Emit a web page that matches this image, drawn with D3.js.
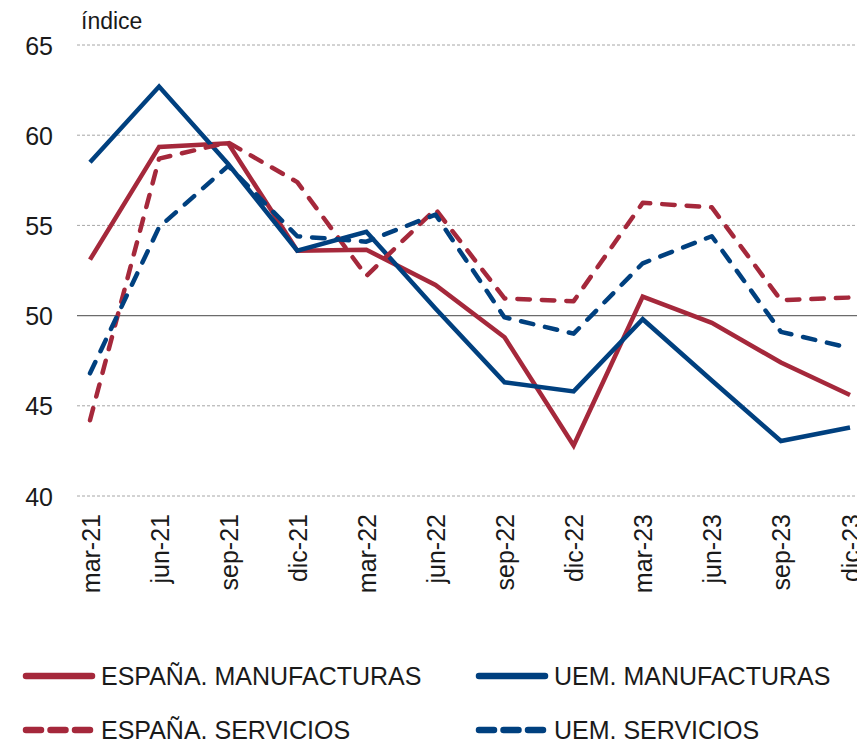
<!DOCTYPE html>
<html>
<head>
<meta charset="utf-8">
<script src="https://cdn.jsdelivr.net/npm/d3@7/dist/d3.min.js"></script>
<style>
  body { margin: 0; background: #fff; }
  svg text { font-family: "Liberation Sans", Arial, sans-serif; fill: #1a1a1a; }
</style>
</head>
<body>
<svg id="chart" width="857" height="744"></svg>
<script>
// datos trimestrales
const categories = ["mar-21", "jun-21", "sep-21", "dic-21", "mar-22", "jun-22",
  "sep-22", "dic-22", "mar-23", "jun-23", "sep-23", "dic-23"];
const espanaManuf = [53.1, 59.35, 59.55, 53.6, 53.65, 51.7, 48.8, 42.8, 51.05, 49.6, 47.4, 45.6];
const uemManuf = [58.5, 62.7, 58.4, 53.6, 54.65, 50.4, 46.3, 45.8, 49.8, 46.4, 43.05, 43.8];
const espanaServ = [44.2, 58.7, 59.6, 57.4, 52.2, 55.9, 50.95, 50.8, 56.25, 56.0, 50.85, 51.0];
const uemServ = [46.8, 54.9, 58.3, 54.4, 54.1, 55.6, 49.9, 49.0, 52.9, 54.4, 49.1, 48.2];
const yTicks = [40, 45, 50, 55, 60, 65];

const red = "#a5283b", blue = "#00407f";

const series = [
  { name: "ESPAÑA. MANUFACTURAS", values: espanaManuf, color: red, dashed: false },
  { name: "UEM. MANUFACTURAS", values: uemManuf, color: blue, dashed: false },
  { name: "ESPAÑA. SERVICIOS", values: espanaServ, color: red, dashed: true },
  { name: "UEM. SERVICIOS", values: uemServ, color: blue, dashed: true }
];

const svg = d3.select("#chart");

const x = d3.scalePoint().domain(categories).range([90, 850]);
const y = d3.scaleLinear().domain([40, 65]).range([496, 45]);

// rejilla
svg.append("g").selectAll("line")
  .data(yTicks)
  .join("line")
  .attr("x1", 77).attr("x2", 857)
  .attr("y1", d => y(d)).attr("y2", d => y(d))
  .attr("stroke", d => d === 50 ? "#6b6b6b" : "#a6a6a6")
  .attr("stroke-width", d => d === 50 ? 1.3 : 1)
  .attr("stroke-dasharray", d => d === 50 ? null : "3,2");

// eje y
const yAxis = svg.append("g")
  .attr("transform", "translate(53,0)")
  .call(d3.axisLeft(y).tickValues(yTicks).tickSize(0).tickPadding(0));
yAxis.select(".domain").remove();
yAxis.selectAll("text")
  .style("font-family", '"Liberation Sans", Arial, sans-serif')
  .style("font-size", "25px")
  .attr("fill", "#1a1a1a")
  .attr("dy", "0.36em");

svg.append("text")
  .attr("x", 81).attr("y", 29)
  .style("font-size", "23px")
  .text("índice");

// eje x
const xAxis = svg.append("g")
  .attr("transform", "translate(0,514)")
  .call(d3.axisBottom(x).tickSize(0).tickPadding(0));
xAxis.select(".domain").remove();
xAxis.selectAll("text")
  .style("font-family", '"Liberation Sans", Arial, sans-serif')
  .style("font-size", "25px")
  .attr("fill", "#1a1a1a")
  .attr("text-anchor", "end")
  .attr("transform", "rotate(-90)")
  .attr("x", 0)
  .attr("y", 0)
  .attr("dy", "0.36em");

// líneas
const line = d3.line()
  .x((d, i) => x(categories[i]))
  .y(d => y(d));

svg.append("g").selectAll("path")
  .data(series)
  .join("path")
  .attr("d", d => line(d.values))
  .attr("fill", "none")
  .attr("stroke", d => d.color)
  .attr("stroke-width", 4.5)
  .attr("stroke-linejoin", d => d.dashed ? "round" : "miter")
  .attr("stroke-linecap", d => d.dashed ? "round" : "butt")
  .attr("stroke-dasharray", d => d.dashed ? "12.5,12" : null);

// leyenda
const legendPos = [[23, 676], [476, 676], [23, 730], [476, 730]];
const legend = svg.append("g").selectAll("g")
  .data(series)
  .join("g")
  .attr("transform", (d, i) => `translate(${legendPos[i][0]},${legendPos[i][1]})`);

legend.append("line")
  .attr("x1", 3).attr("x2", 69)
  .attr("y1", 0).attr("y2", 0)
  .attr("stroke", d => d.color)
  .attr("stroke-width", 6.5)
  .attr("stroke-linecap", "round")
  .attr("stroke-dasharray", d => d.dashed ? "15,9.5" : null);

legend.append("text")
  .attr("x", 78)
  .attr("y", 0)
  .attr("dy", "0.36em")
  .style("font-size", "25px")
  .text(d => d.name);
</script>
</body>
</html>
